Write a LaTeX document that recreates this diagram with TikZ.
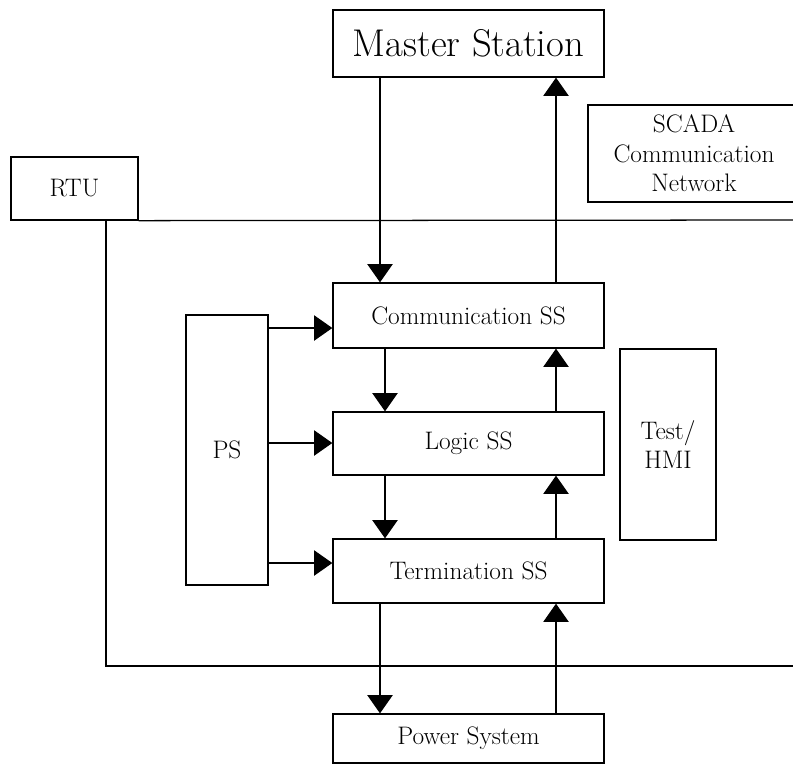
\documentclass[tikz,border=0pt]{standalone}
\usepackage{tikz}
\usetikzlibrary{arrows.meta}
\tikzset{
  block/.style={draw, line width=0.9pt, align=center, inner sep=0pt, minimum width=#1, font=\fontsize{18}{21}\selectfont},
  block/.default=6.775cm,
  flow/.style={-{Triangle[width=18pt,length=13pt]}, line width=0.9pt},
  bus/.style={line width=0.9pt},
}
\begin{document}
\begin{tikzpicture}[x=0.025cm, y=-0.025cm]
  \useasboundingbox (0,0) rectangle (793,764);
  % boxes
  \node[block, minimum height=1.675cm, font=\fontsize{27.5}{32}\selectfont] (master) at (468.5,43.5) {Master Station};
  \node[block=5.3cm, minimum height=2.425cm] (scada) at (694,153.5) {SCADA\\Communication\\Network};
  \node[block=3.175cm, minimum height=1.575cm] (rtu) at (74.5,188.5) {RTU};
  \node[block, minimum height=1.625cm] (comm) at (468.5,315.5) {Communication SS};
  \node[block, minimum height=1.575cm] (logic) at (468.5,443.5) {Logic SS};
  \node[block, minimum height=1.6cm] (term) at (468.5,571) {Termination SS};
  \node[block, minimum height=1.225cm] (power) at (468.5,738.5) {Power System};
  \node[block=2.05cm, minimum height=6.75cm] (ps) at (227,450) {PS};
  \node[block=2.4cm, minimum height=4.775cm] (hmi) at (668,444.5) {Test/\\HMI};
  % lanes for the vertical arrows
  \coordinate (down) at (380,0);
  \coordinate (mid) at (385,0);
  \coordinate (up) at (556,0);
  \draw[flow] (master.south -| down) -- (comm.north -| down);
  \draw[flow] (comm.north -| up) -- (master.south -| up);
  \draw[flow] (comm.south -| mid) -- (logic.north -| mid);
  \draw[flow] (logic.south -| mid) -- (term.north -| mid);
  \draw[flow] (logic.north -| up) -- (comm.south -| up);
  \draw[flow] (term.north -| up) -- (logic.south -| up);
  \draw[flow] (term.south -| down) -- (power.north -| down);
  \draw[flow] (power.north -| up) -- (term.south -| up);
  % supply to the subsystems
  \foreach \n/\y in {comm/328, logic/443, term/563} {
    \coordinate (row) at (0,\y);
    \draw[flow] (ps.east |- row) -- (\n.west |- row);
  }
  % network bus
  \coordinate (busend) at (800,220);
  \coordinate (drop) at (106,666);
  \coordinate (loopend) at (800,666);
  \draw[bus] (rtu.south east) -- (busend);
  \draw[bus] (rtu.south -| drop) -- (drop) -- (loopend);
\end{tikzpicture}
\end{document}
